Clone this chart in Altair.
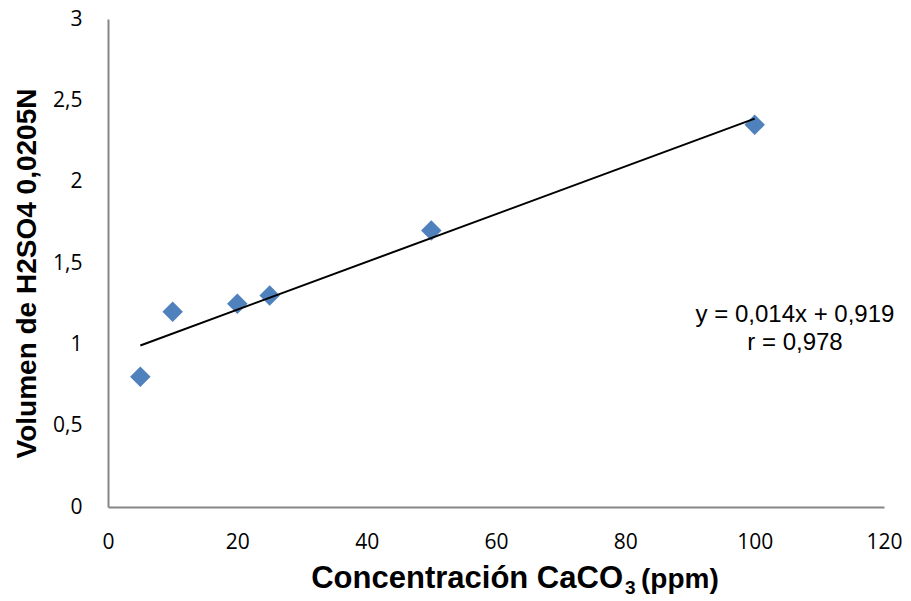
import altair as alt
import pandas as pd

conc = [5, 10, 20, 25, 50, 100]
vol = [0.8, 1.2, 1.25, 1.3, 1.7, 2.35]
eq_lines = ["y = 0,014x + 0,919", "r = 0,978"]
xtitle_main = "Concentración CaCO"
xtitle_sub = "3"
xtitle_tail = "(ppm)"
ytitle = "Volumen de H2SO4 0,0205N"

df = pd.DataFrame({"x": conc, "y": vol})

x_enc = alt.X("x:Q", scale=alt.Scale(domain=[0, 120], nice=False),
              axis=alt.Axis(values=[0, 20, 40, 60, 80, 100, 120], grid=False, ticks=False,
                            domainColor="#868686", domainWidth=2, labelFlush=False,
                            labelFont="Open Sans", labelFontSize=21, labelColor="#000000",
                            labelPadding=24, title=None))
y_enc = alt.Y("y:Q", scale=alt.Scale(domain=[0, 3], nice=False),
              axis=alt.Axis(values=[0, 0.5, 1, 1.5, 2, 2.5, 3], grid=False, ticks=False,
                            domainColor="#868686", domainWidth=2, labelFlush=False,
                            labelExpr="replace(toString(datum.value), '.', ',')",
                            labelFont="Open Sans", labelFontSize=21, labelColor="#000000",
                            labelPadding=26,
                            title=ytitle, titleFont="Liberation Sans", titleY=254,
                            titleFontSize=28, titleFontWeight="bold", titleColor="#000000",
                            titlePadding=11))

base = alt.Chart(df)

points = base.mark_point(shape="diamond", filled=True, size=420, color="#4F81BD",
                         opacity=1).encode(x=x_enc, y=y_enc)

trend = base.transform_regression("x", "y", method="linear").mark_line(
    color="#000000", strokeWidth=2).encode(x="x:Q", y="y:Q")

def label(text, x, y, size, align, weight="normal", baseline="alphabetic"):
    return alt.Chart(pd.DataFrame({"t": [text]})).mark_text(
        font="Liberation Sans", fontSize=size, fontWeight=weight, color="#000000",
        align=align, baseline=baseline).encode(text="t:N", x=alt.value(x), y=alt.value(y))

eq1 = label(eq_lines[0], 687, 296, 24, "center", baseline="middle")
eq2 = label(eq_lines[1], 687, 324, 24, "center", baseline="middle")

xt1 = label(xtitle_main, 515, 569, 31, "right", "bold")
xt2 = label(xtitle_sub, 517, 575, 19, "left", "bold")
xt3 = label(xtitle_tail, 533, 569, 28, "left", "bold")

chart = alt.layer(points, trend, eq1, eq2, xt1, xt2, xt3).properties(
    width=776, height=488,
    autosize=alt.AutoSizeParams(type="none"),
    padding={"left": 108, "top": 19, "right": 27, "bottom": 94},
    background="white",
).configure_view(stroke=None)

chart.save("out.html", embed_options={"renderer": "svg", "actions": False})
